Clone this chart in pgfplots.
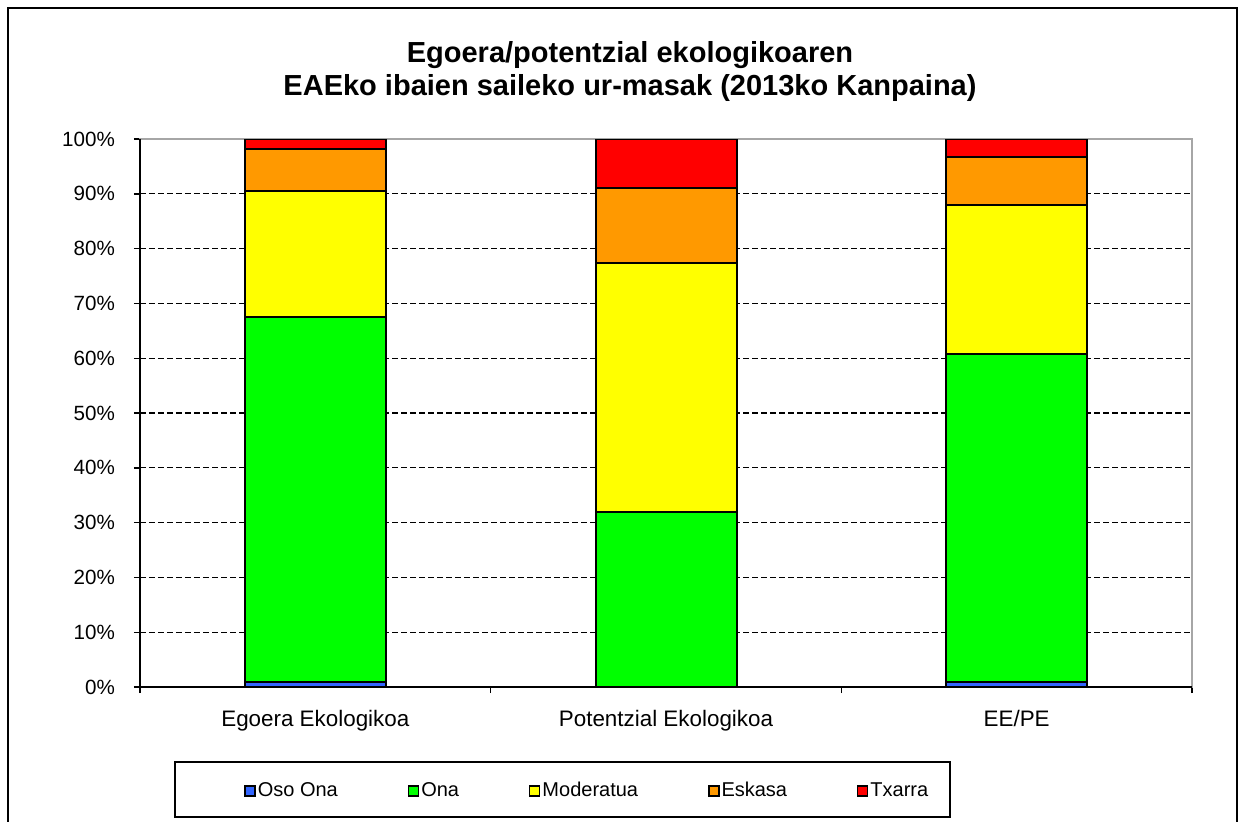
\documentclass[border=0pt]{standalone}
\usepackage{fontspec}
\setmainfont{Liberation Sans}
\usepackage{pgfplots}
\pgfplotsset{compat=1.18}

\definecolor{osoona}{HTML}{3366FF}
\definecolor{ona}{HTML}{00FF00}
\definecolor{moderatua}{HTML}{FFFF00}
\definecolor{eskasa}{HTML}{FF9900}
\definecolor{txarra}{HTML}{FF0000}

\pgfplotsset{
  sq legend/.style={legend image code/.code={\draw[##1,draw=black,line width=0.7pt] (0pt,-2.5pt) rectangle (5pt,2.5pt);}},
}

\begin{document}
\begin{tikzpicture}
\path[use as bounding box] (-70pt,-67pt) rectangle (551pt,343.5pt);
% outer chart frame and legend frame
\draw[line width=0.9pt] (-66pt,-80pt) -- (-66pt,339.5pt) -- (548.5pt,339.5pt) -- (548.5pt,-80pt);
\draw[line width=0.9pt] (17.5pt,-37.5pt) rectangle (405pt,-65pt);
\begin{axis}[
  at={(0,0)}, anchor=south west,
  scale only axis, width=526pt, height=274pt,
  ybar stacked, bar width=70.5pt,
  xmin=-0.5, xmax=2.5, ymin=0, ymax=100,
  axis line style={draw=gray!70, line width=0.8pt},
  xtick={-0.5,0.5,1.5,2.5}, xticklabels={},
  extra x ticks={0,1,2},
  extra x tick labels={Egoera Ekologikoa, Potentzial Ekologikoa, EE/PE},
  extra x tick style={major tick length=0pt},
  ytick={0,10,...,100},
  yticklabels={0\%,10\%,20\%,30\%,40\%,50\%,60\%,70\%,80\%,90\%,100\%},
  tick align=outside, major tick length=3pt,
  tick style={black, line width=0.7pt},
  xtick pos=bottom, ytick pos=left,
  ymajorgrids, grid style={black, line width=0.6pt, dash pattern=on 3pt off 1.5pt},
  yticklabel style={font=\fontsize{10.3}{12}\selectfont, xshift=-6pt},
  xticklabel style={font=\fontsize{11.2}{13}\selectfont, yshift=-8pt},
  title={Egoera/potentzial ekologikoaren\\EAEko ibaien saileko ur-masak (2013ko Kanpaina)},
  title style={font=\bfseries\fontsize{14.5}{16.5}\selectfont, align=center, at={(0.4658,1)}, anchor=center, yshift=28pt},
  legend style={draw=none, fill=none, at={(0.0932,-0.19)}, anchor=west,
    font=\fontsize{10}{12}\selectfont, legend columns=5,
    /tikz/every even column/.append style={column sep=34pt},
    nodes={inner xsep=1pt}},
  after end axis/.code={
    \draw[black, line width=0.8pt] (rel axis cs:0,1) -- (rel axis cs:0,0) -- (rel axis cs:1,0);
  },
]
\addplot[fill=osoona, draw=black, line width=1pt, sq legend] coordinates {(0,0.9) (1,0) (2,0.9)};
\addlegendentry{Oso Ona}
\addplot[fill=ona, draw=black, line width=1pt, sq legend] coordinates {(0,66.6) (1,31.9) (2,59.9)};
\addlegendentry{Ona}
\addplot[fill=moderatua, draw=black, line width=1pt, sq legend] coordinates {(0,23.0) (1,45.5) (2,27.2)};
\addlegendentry{Moderatua}
\addplot[fill=eskasa, draw=black, line width=1pt, sq legend] coordinates {(0,7.7) (1,13.6) (2,8.8)};
\addlegendentry{Eskasa}
\addplot[fill=txarra, draw=black, line width=1pt, sq legend] coordinates {(0,1.8) (1,9.0) (2,3.2)};
\addlegendentry{Txarra}
\end{axis}
\end{tikzpicture}
\end{document}
